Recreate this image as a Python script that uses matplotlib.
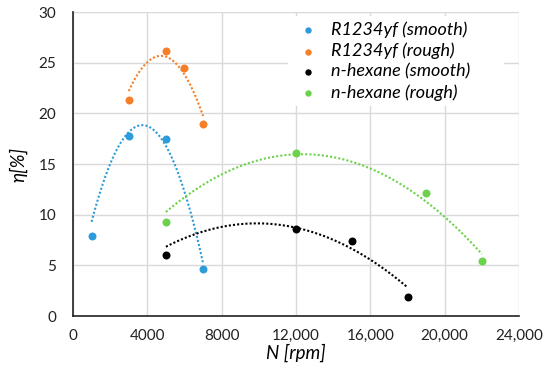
import numpy as np
import matplotlib.pyplot as plt
from matplotlib.ticker import FuncFormatter

plt.rcParams['font.family'] = ['Lato', 'DejaVu Sans']

r_smooth_n = [1000, 3000, 5000, 7000]
r_smooth_eta = [7.9, 17.8, 17.5, 4.6]

r_rough_n = [3000, 5000, 6000, 7000]
r_rough_eta = [21.3, 26.2, 24.45, 18.95]

h_smooth_n = [5000, 12000, 15000, 18000]
h_smooth_eta = [6.0, 8.6, 7.4, 1.9]

h_rough_n = [5000, 12000, 19000, 22000]
h_rough_eta = [9.3, 16.1, 12.1, 5.45]

# points read along the dotted trendlines (start, middle, end)
r_smooth_trend_n = [1000, 4000, 7000]
r_smooth_trend_eta = [9.3, 18.75, 5.2]
r_rough_trend_n = [3000, 5000, 7000]
r_rough_trend_eta = [22.2, 25.6, 19.75]
h_smooth_trend_n = [5000, 12000, 18000]
h_smooth_trend_eta = [6.84, 8.72, 2.83]
h_rough_trend_n = [5000, 12700, 22000]
h_rough_trend_eta = [10.27, 15.96, 6.12]

series = [
    ('R1234yf (smooth)', r_smooth_n, r_smooth_eta, r_smooth_trend_n, r_smooth_trend_eta, '#2E9BDA'),
    ('R1234yf (rough)', r_rough_n, r_rough_eta, r_rough_trend_n, r_rough_trend_eta, '#F57F28'),
    ('n-hexane (smooth)', h_smooth_n, h_smooth_eta, h_smooth_trend_n, h_smooth_trend_eta, '#000000'),
    ('n-hexane (rough)', h_rough_n, h_rough_eta, h_rough_trend_n, h_rough_trend_eta, '#6CD24B'),
]

fig = plt.figure(figsize=(5.5, 3.72), dpi=100)
ax = fig.add_axes([0.1327, 0.1505, 0.811, 0.817])

for label, n, eta, tn, teta, col in series:
    ax.scatter(n, eta, s=33, color=col, label=label, zorder=3, linewidths=0)
    # 2nd order trendline through the read points
    p = np.polyfit(tn, teta, 2)
    xs = np.linspace(min(tn), max(tn), 200)
    ax.plot(xs, np.polyval(p, xs), color=col, lw=1.5, ls=(0, (1, 1)), zorder=2)

ax.set_xlim(0, 24000)
ax.set_ylim(0, 30)
ax.set_xticks(range(0, 24001, 4000))
ax.set_yticks(range(0, 31, 5))
ax.xaxis.set_major_formatter(FuncFormatter(
    lambda v, pos: '%d' % v if v < 10000 else '{:,}'.format(int(v))))
ax.grid(True, color='#D9D9D9', lw=1)
ax.set_axisbelow(True)
ax.tick_params(length=0, labelsize=11, colors='#222222')
ax.tick_params(axis='y', pad=12)
ax.tick_params(axis='x', pad=9)
for s in ['top', 'right']:
    ax.spines[s].set_visible(False)
for s in ['left', 'bottom']:
    ax.spines[s].set_color('#222222')
    ax.spines[s].set_linewidth(1.2)

ax.set_xlabel('N [rpm]', fontstyle='italic', fontsize=13.5, labelpad=1)
ax.set_ylabel('η[%]', fontstyle='italic', fontsize=13.5, labelpad=8)

# white legend box, wider than its text like the excel one
leg = ax.legend(loc='upper left', bbox_to_anchor=(0.462, 1.016, 0.525, 0),
                mode='expand', frameon=True, fancybox=False, edgecolor='none',
                facecolor='white', framealpha=1,
                prop={'style': 'italic', 'size': 13}, handlelength=1.6,
                handletextpad=0.45, labelspacing=0.25, borderpad=0.3,
                markerscale=0.8)

fig.savefig('out.png', dpi=100)
